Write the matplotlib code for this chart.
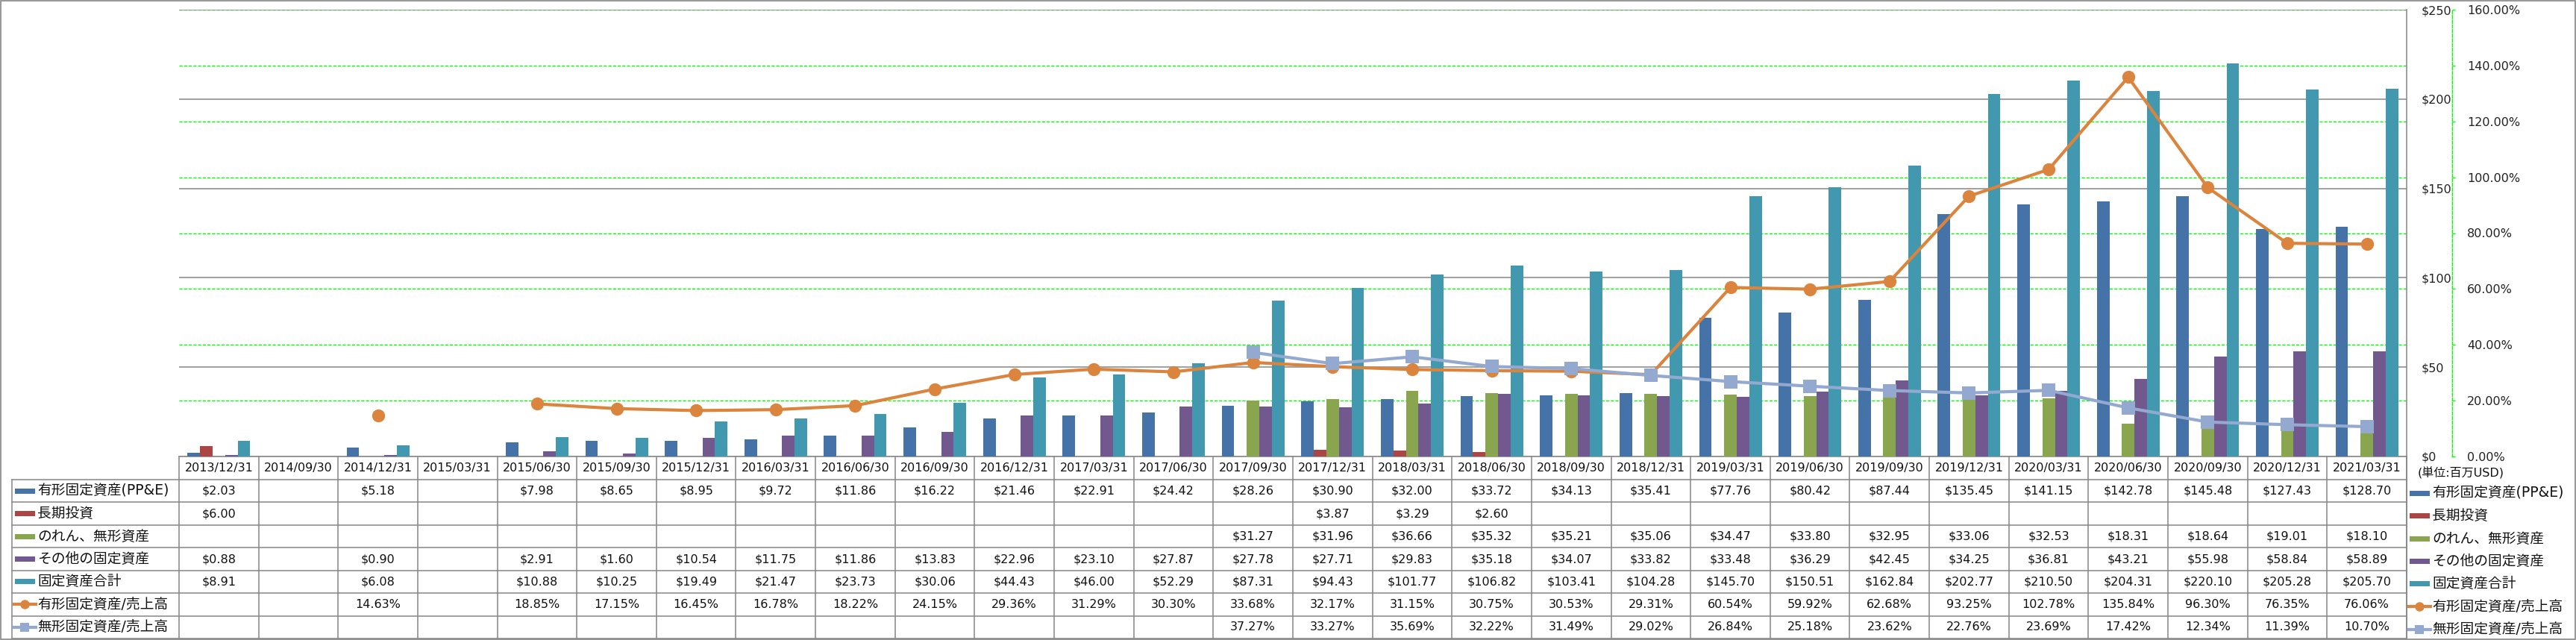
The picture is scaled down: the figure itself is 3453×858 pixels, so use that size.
import numpy as np
import matplotlib
matplotlib.use("Agg")
import matplotlib.pyplot as plt
from matplotlib.patches import Rectangle

plt.rcParams['font.family'] = ['DejaVu Sans', 'Noto Sans CJK JP']

N = np.nan

# ---- data (百万USD / %) ----
dates = ["2013/12/31", "2014/09/30", "2014/12/31", "2015/03/31", "2015/06/30",
         "2015/09/30", "2015/12/31", "2016/03/31", "2016/06/30", "2016/09/30",
         "2016/12/31", "2017/03/31", "2017/06/30", "2017/09/30", "2017/12/31",
         "2018/03/31", "2018/06/30", "2018/09/30", "2018/12/31", "2019/03/31",
         "2019/06/30", "2019/09/30", "2019/12/31", "2020/03/31", "2020/06/30",
         "2020/09/30", "2020/12/31", "2021/03/31"]

ppe = [2.03, N, 5.18, N, 7.98, 8.65, 8.95, 9.72, 11.86, 16.22, 21.46, 22.91, 24.42,
       28.26, 30.90, 32.00, 33.72, 34.13, 35.41, 77.76, 80.42, 87.44, 135.45,
       141.15, 142.78, 145.48, 127.43, 128.70]
lt_invest = [6.00, N, N, N, N, N, N, N, N, N, N, N, N,
             N, 3.87, 3.29, 2.60, N, N, N, N, N, N, N, N, N, N, N]
goodwill = [N, N, N, N, N, N, N, N, N, N, N, N, N,
            31.27, 31.96, 36.66, 35.32, 35.21, 35.06, 34.47, 33.80, 32.95, 33.06,
            32.53, 18.31, 18.64, 19.01, 18.10]
other_fixed = [0.88, N, 0.90, N, 2.91, 1.60, 10.54, 11.75, 11.86, 13.83, 22.96, 23.10,
               27.87, 27.78, 27.71, 29.83, 35.18, 34.07, 33.82, 33.48, 36.29, 42.45,
               34.25, 36.81, 43.21, 55.98, 58.84, 58.89]
total_fixed = [8.91, N, 6.08, N, 10.88, 10.25, 19.49, 21.47, 23.73, 30.06, 44.43, 46.00,
               52.29, 87.31, 94.43, 101.77, 106.82, 103.41, 104.28, 145.70, 150.51,
               162.84, 202.77, 210.50, 204.31, 220.10, 205.28, 205.70]
ppe_to_sales = [N, N, 14.63, N, 18.85, 17.15, 16.45, 16.78, 18.22, 24.15, 29.36, 31.29,
                30.30, 33.68, 32.17, 31.15, 30.75, 30.53, 29.31, 60.54, 59.92, 62.68,
                93.25, 102.78, 135.84, 96.30, 76.35, 76.06]
intang_to_sales = [N, N, N, N, N, N, N, N, N, N, N, N, N,
                   37.27, 33.27, 35.69, 32.22, 31.49, 29.02, 26.84, 25.18, 23.62, 22.76,
                   23.69, 17.42, 12.34, 11.39, 10.70]

bar_names = ["有形固定資産(PP&E)", "長期投資", "のれん、無形資産", "その他の固定資産", "固定資産合計"]
line_names = ["有形固定資産/売上高", "無形固定資産/売上高"]
unit_label = "(単位:百万USD)"

bar_series = [ppe, lt_invest, goodwill, other_fixed, total_fixed]
line_series = [ppe_to_sales, intang_to_sales]
bar_colors = ["#4572A7", "#AA4643", "#89A54E", "#71588F", "#4198AF"]
line_colors = ["#DB843D", "#93A9CF"]
line_markers = ["o", "s"]

# ---- layout (pixels) ----
W, H = 3453, 858
PX = 72 / 100  # points per pixel
left, right, top, bottom = 240, 3226, 13, 612
rect = [left / W, 1 - bottom / H, (right - left) / W, (bottom - top) / H]
gray = "#868686"
green = "#00FF00"

fig = plt.figure(figsize=(W / 100, H / 100), dpi=100)
x = np.arange(len(dates))

# secondary scale: green grid + axis (bottom layer)
axg = fig.add_axes(rect, zorder=1)
axg.set_xlim(-0.5, len(dates) - 0.5)
axg.set_ylim(0, 160)
axg.set_xticks([])
axg.yaxis.tick_right()
axg.set_yticks(np.arange(0, 161, 20))
axg.set_yticklabels([f"{v:.2f}%" for v in np.arange(0, 161, 20)])
axg.tick_params(axis="y", length=4 * PX, width=1, color=green, pad=16 * PX,
                labelsize=11.5, labelcolor="#222222")
axg.grid(axis="y", color=green, linestyle=(0, (3, 1.5)), linewidth=1.0)
for s in ["left", "top", "bottom"]:
    axg.spines[s].set_visible(False)
axg.spines["right"].set_position(("outward", 61 * PX))
axg.spines["right"].set_color(green)
axg.spines["right"].set_linestyle((0, (3, 1.5)))
axg.spines["right"].set_linewidth(1.0)

# primary scale: bars
ax = fig.add_axes(rect, zorder=2)
ax.patch.set_visible(False)
ax.set_xlim(-0.5, len(dates) - 0.5)
ax.set_ylim(0, 250)
bw = 0.1575
for i, (vals, col) in enumerate(zip(bar_series, bar_colors)):
    ax.bar(x + (i - 2) * bw, np.array(vals, dtype=float), width=bw, color=col,
           linewidth=0, zorder=3)
ax.set_xticks([])
ax.yaxis.tick_right()
ax.set_yticks(np.arange(0, 251, 50))
ax.set_yticklabels([f"${v}" for v in np.arange(0, 251, 50)])
ax.tick_params(axis="y", length=0, pad=20 * PX, labelsize=11.5, labelcolor="#222222")
ax.grid(axis="y", color=gray, linewidth=1.1, zorder=0)
ax.set_axisbelow(True)
for s in ["left", "top"]:
    ax.spines[s].set_visible(False)
ax.spines["right"].set_color(gray)
ax.spines["bottom"].set_color(gray)
ax.spines["right"].set_linewidth(1.1)
ax.spines["bottom"].set_linewidth(1.1)

# lines on secondary scale (top layer)
axl = fig.add_axes(rect, zorder=3)
axl.patch.set_visible(False)
axl.set_xlim(-0.5, len(dates) - 0.5)
axl.set_ylim(0, 160)
axl.axis("off")
for vals, col, mk in zip(line_series, line_colors, line_markers):
    axl.plot(x, np.array(vals, dtype=float), color=col, linewidth=3.0,
             marker=mk, markersize=12.5, markeredgewidth=0, clip_on=False)

# ---- data table + legends (pixel space) ----
tb = fig.add_axes([0, 0, 1, 1], zorder=0)
tb.set_xlim(0, W)
tb.set_ylim(H, 0)
tb.axis("off")

cw = (right - left) / len(dates)
row_y = [612, 643] + [643 + k * 30.43 for k in range(1, 8)]
lc = dict(color=gray, linewidth=1.1)

for yy in row_y[1:]:
    tb.plot([16, right], [yy, yy], **lc)
tb.plot([16, 16], [row_y[1], row_y[-1]], **lc)
for i in range(len(dates) + 1):
    xx = left + i * cw
    tb.plot([xx, xx], [row_y[0], row_y[-1]], **lc)
tb.plot([right, right], [row_y[0], row_y[-1]], **lc)
# outer chart border
tb.add_patch(Rectangle((0.5, 0.5), W - 1.5, H - 1.5, fill=False, edgecolor=gray,
                       linewidth=1.2))

for i, d in enumerate(dates):
    tb.text(left + (i + 0.5) * cw, (row_y[0] + row_y[1]) / 2, d, ha="center",
            va="center", fontsize=11.5, color="#111111")

table_rows = [(v, "money") for v in bar_series] + [(v, "pct") for v in line_series]
for r, (vals, kind) in enumerate(table_rows):
    yc = (row_y[r + 1] + row_y[r + 2]) / 2
    for i, v in enumerate(vals):
        if np.isnan(v):
            continue
        s = f"${v:.2f}" if kind == "money" else f"{v:.2f}%"
        tb.text(left + (i + 0.5) * cw, yc, s, ha="center", va="center",
                fontsize=11.5, color="#111111")


def draw_key(x0, yc, r):
    if r < 5:
        tb.add_patch(Rectangle((x0, yc - 3.5), 27, 7, color=bar_colors[r], linewidth=0))
    else:
        k = r - 5
        tb.plot([x0 - 1, x0 + 28], [yc, yc], color=line_colors[k], linewidth=3.0)
        tb.plot([x0 + 13.5], [yc], marker=line_markers[k], color=line_colors[k],
                markersize=9, markeredgewidth=0)


all_names = bar_names + line_names
for r, name in enumerate(all_names):
    yc = (row_y[r + 1] + row_y[r + 2]) / 2
    draw_key(20, yc, r)
    tb.text(50, yc, name, ha="left", va="center", fontsize=13.5, color="#111111")
    # right-hand legend
    yl = yc + 3
    draw_key(3230, yl, r)
    tb.text(3260, yl, name, ha="left", va="center", fontsize=13.5, color="#111111")

tb.text(3241, 634, unit_label, ha="left", va="center", fontsize=11.5, color="#111111")

fig.savefig("out.png", dpi=100)
